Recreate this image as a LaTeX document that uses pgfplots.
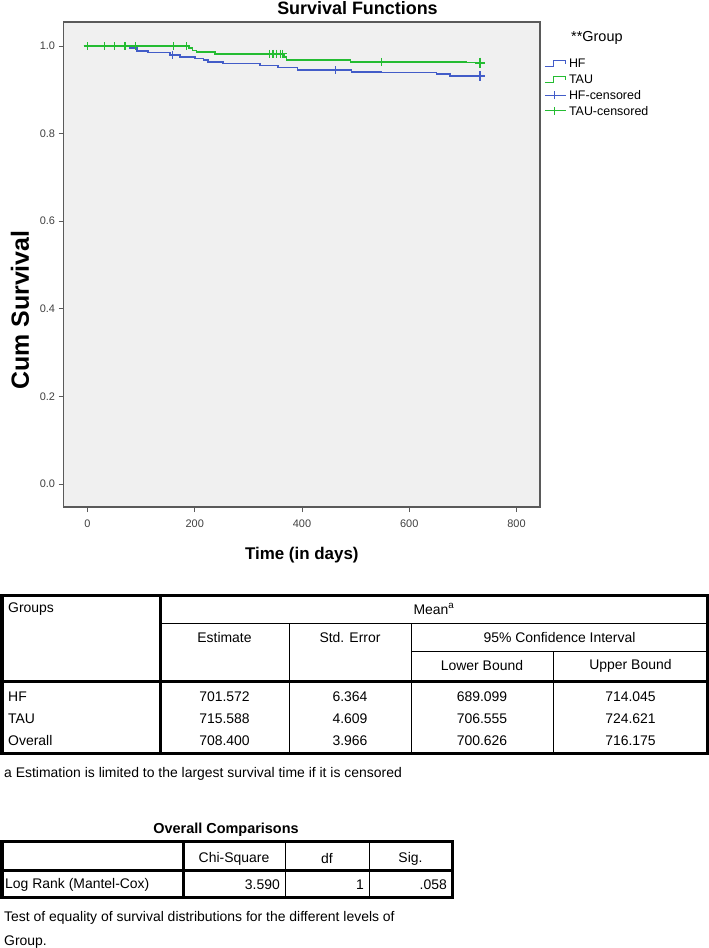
\documentclass[border=0pt]{standalone}
\usepackage{fontspec}
\setmainfont{Liberation Sans}
\usepackage{pgfplots}
\pgfplotsset{compat=1.18}
\definecolor{hfblue}{RGB}{66,92,200}
\definecolor{taugreen}{RGB}{36,188,50}
\definecolor{plotbg}{RGB}{240,240,240}
\definecolor{axisgray}{RGB}{90,90,90}
\newcommand{\tf}{\fontsize{14}{16}\selectfont}
\begin{document}
\begin{tikzpicture}
\path[use as bounding box] (0,0) rectangle (709bp,-948bp);
\begin{axis}[
  at={(63.6bp,-507bp)}, anchor=south west,
  scale only axis, width=476.4bp, height=485bp,
  xmin=-44.6, xmax=843.8, ymin=-0.0525, ymax=1.0548,
  axis background/.style={fill=plotbg},
  axis line style={axisgray, line width=1.2bp},
  xtick={0,200,400,600,800}, ytick={0,0.2,0.4,0.6,0.8,1},
  tick align=outside, tick pos=left, major tick length=5bp,
  tick style={axisgray, line width=0.8bp},
  /pgf/number format/assume math mode=true,
  yticklabel style={/pgf/number format/.cd, fixed, fixed zerofill, precision=1},
  xticklabel style={yshift=-4bp},
  ticklabel style={font=\fontsize{11}{13}\selectfont, text=black!75},
  xlabel={Time (in days)},
  xlabel style={font=\bfseries\fontsize{17}{20}\selectfont, at={(axis description cs:0.5,-0.099)}, anchor=center},
  ylabel={Cum Survival},
  ylabel style={font=\bfseries\fontsize{25}{29}\selectfont, at={(axis description cs:-0.0915,0.406)}, anchor=center},
  legend style={at={(axis description cs:1.0084,0.9266)}, anchor=north west, draw=none, fill=none,
    font=\fontsize{12.5}{14}\selectfont, row sep=4.4bp, inner sep=0pt,
    nodes={inner sep=1.2bp, text height=9bp, text depth=0bp},
    /tikz/every odd column/.append style={column sep=1.5bp}},
  legend cell align=left,
]
% HF survival curve
\addplot[const plot, hfblue, line width=1.5bp, forget plot] coordinates {
(0,1.0) (79,0.995) (92,0.989) (113,0.985) (154,0.980) (172,0.975) (200,0.972)
(216,0.968) (225,0.964) (253,0.960) (322,0.955) (355,0.951) (392,0.945)
(492,0.941) (548,0.939) (651,0.936) (676,0.932) (731,0.932)};
% TAU survival curve
\addplot[const plot, taugreen, line width=1.5bp, forget plot] coordinates {
(0,1.0) (188,0.995) (196,0.990) (203,0.986) (238,0.982) (366,0.975) (371,0.968)
(490,0.964) (706,0.962) (731,0.962)};
% censored marks
\addplot[only marks, mark=+, mark size=4bp, hfblue, mark options={line width=1.2bp}, forget plot] coordinates {
(0,1.0) (159,0.980) (463,0.945)};
\addplot[only marks, mark=+, mark size=5bp, hfblue, mark options={line width=2bp}, forget plot] coordinates {
(731,0.932)};
\addplot[only marks, mark=+, mark size=4bp, taugreen, mark options={line width=1.2bp}, forget plot] coordinates {
(0,1.0) (31,1.0) (50,1.0) (70,1.0) (90,1.0) (160,1.0) (184,1.0)
(340,0.982) (346,0.982) (352,0.982) (360,0.982) (364,0.982) (548,0.964)};
\addplot[only marks, mark=+, mark size=5bp, taugreen, mark options={line width=2bp}, forget plot] coordinates {
(731,0.962)};
\addlegendimage{legend image code/.code={\draw[hfblue, line width=1.1bp] (0bp,-3bp) -- (9bp,-3bp) -- (9bp,3bp) -- (21bp,3bp) -- (21bp,-1bp);}}
\addlegendimage{legend image code/.code={\draw[taugreen, line width=1.1bp] (0bp,-3bp) -- (9bp,-3bp) -- (9bp,3bp) -- (21bp,3bp) -- (21bp,-1bp);}}
\addlegendimage{legend image code/.code={\draw[hfblue, line width=1.1bp] (0bp,0bp) -- (21bp,0bp); \draw[hfblue, line width=1.1bp] (10bp,-4bp) -- (10bp,4bp);}}
\addlegendimage{legend image code/.code={\draw[taugreen, line width=1.1bp] (0bp,0bp) -- (21bp,0bp); \draw[taugreen, line width=1.1bp] (10bp,-4bp) -- (10bp,4bp);}}
\legend{HF,TAU,HF-censored,TAU-censored}
\end{axis}
\begin{scope}[x=1bp,y=-1bp]
\node[anchor=base, font=\bfseries\fontsize{18}{21}\selectfont, inner sep=0pt] at (357.5,14.5) {Survival Functions};
\node[anchor=west, font=\fontsize{14.5}{17}\selectfont, inner sep=0pt] at (571,38) {**Group};
% ---- big table ----
\draw[line width=3bp] (2,595) rectangle (707.5,753);
\draw[line width=3bp] (160.5,595) -- (160.5,753);
\draw[line width=3bp] (2,681) -- (707.5,681);
\draw[line width=1bp] (160.5,623) -- (707.5,623);
\draw[line width=1bp] (411,651) -- (707.5,651);
\draw[line width=1bp] (289,623) -- (289,753);
\draw[line width=1bp] (411,623) -- (411,753);
\draw[line width=1bp] (553,651) -- (553,753);
\begin{scope}[every node/.style={font=\tf, inner sep=0pt}]
\node[anchor=west] at (8,609) {Groups};
\node at (434,609) {Mean\textsuperscript{a}};
\node at (224.5,638) {Estimate};
\node at (350,638) {Std. Error};
\node at (559.5,638) {95\% Confidence Interval};
\node at (482,666) {Lower Bound};
\node at (630.5,666) {Upper Bound};
\node[anchor=west] at (8,697) {HF};
\node[anchor=west] at (8,719) {TAU};
\node[anchor=west] at (8,741) {Overall};
\node at (224.5,697) {701.572}; \node at (350,697) {6.364}; \node at (482,697) {689.099}; \node at (630.5,697) {714.045};
\node at (224.5,719) {715.588}; \node at (350,719) {4.609}; \node at (482,719) {706.555}; \node at (630.5,719) {724.621};
\node at (224.5,741) {708.400}; \node at (350,741) {3.966}; \node at (482,741) {700.626}; \node at (630.5,741) {716.175};
\node[anchor=west] at (4,774) {a Estimation is limited to the largest survival time if it is censored};
\node[font=\bfseries\fontsize{14.5}{17}\selectfont] at (226,830) {Overall Comparisons};
\node at (234,859) {Chi-Square};
\node at (327,859) {df};
\node at (410.5,859) {Sig.};
\node[anchor=west] at (5,885) {Log Rank (Mantel-Cox)};
\node[anchor=east] at (280,885) {3.590};
\node[anchor=east] at (364,885) {1};
\node[anchor=east] at (447,885) {.058};
\node[anchor=west] at (4,918) {Test of equality of survival distributions for the different levels of};
\node[anchor=west] at (4,942) {Group.};
\end{scope}
% ---- small table ----
\draw[line width=3bp] (2,841) rectangle (452,897);
\draw[line width=3bp] (183,841) -- (183,897);
\draw[line width=3bp] (2,870) -- (452,870);
\draw[line width=1bp] (285,841) -- (285,897);
\draw[line width=1bp] (369,841) -- (369,897);
\end{scope}
\end{tikzpicture}
\end{document}
